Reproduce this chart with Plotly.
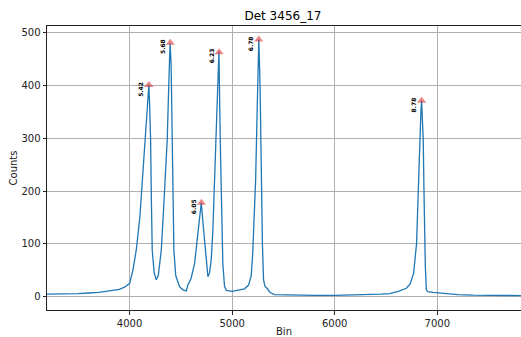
import plotly.graph_objects as go

# Spectrum samples: bin number and counts
bins = [
    3195, 3300, 3400, 3500, 3600, 3700, 3800, 3900, 3950, 4000,
    4032, 4065, 4100, 4125, 4146, 4165, 4180, 4188, 4196, 4205,
    4213, 4221, 4240, 4260, 4280, 4295, 4309, 4330, 4350, 4367,
    4385, 4395, 4405, 4416, 4425, 4432, 4450, 4487, 4520, 4552,
    4569, 4600, 4634, 4666, 4699, 4722, 4748, 4764, 4780, 4796,
    4812, 4829, 4845, 4860, 4871, 4884, 4895, 4903, 4909, 4926,
    4945, 5000, 5060, 5120, 5160, 5186, 5200, 5209, 5229, 5240,
    5250, 5260, 5272, 5284, 5295, 5306, 5320, 5339, 5370, 5414,
    5500, 5600, 5800, 6000, 6200, 6350, 6450, 6535, 6620, 6698,
    6735, 6769, 6798, 6815, 6827, 6840, 6847, 6855, 6863, 6870,
    6876, 6883, 6893, 6909, 6960, 7020, 7100, 7200, 7350, 7500,
    7650, 7816,
]
counts = [
    5, 5, 6, 6, 7, 8, 11, 14, 18, 25,
    50, 88, 150, 220, 297, 340, 385, 401, 360, 297,
    180, 88, 45, 32, 40, 60, 88, 160, 230, 297,
    420, 480, 440, 297, 170, 88, 40, 19, 13, 11,
    22, 35, 63, 126, 178, 126, 63, 38, 45, 70,
    126, 221, 297, 400, 464, 297, 180, 100, 63, 19,
    12, 10, 12, 15, 22, 40, 80, 126, 221, 320,
    420, 487, 400, 221, 100, 32, 20, 16, 8, 4,
    3.5, 3, 2.5, 2.5, 3, 4, 5, 6, 10, 16,
    24, 44, 101, 202, 297, 350, 371, 340, 297, 202,
    101, 60, 13, 9.5, 8, 7, 5, 4, 3, 2.5,
    2.5, 2,
]

# Identified peaks: position, height and alpha energy (MeV)
peak_bins = [4188, 4397, 4701, 4873, 5259, 6847]
peak_counts = [401, 481, 178, 463, 487, 371]
peak_labels = ["5.42", "5.68", "6.05", "6.23", "6.78", "8.78"]

x_range = [3195, 7816]
y_range = [-25.2, 512.7]
y_ticks = [0, 100, 200, 300, 400, 500]
x_ticks = [4000, 5000, 6000, 7000]

fig = go.Figure()
fig.add_trace(go.Scatter(
    x=bins, y=counts, mode="lines",
    line=dict(color="#1f77b4", width=1.3),
    hoverinfo="skip", showlegend=False,
))
fig.add_trace(go.Scatter(
    x=peak_bins, y=peak_counts, mode="markers",
    marker=dict(symbol="triangle-up", size=8, color="rgba(214,39,40,0.55)",
                line=dict(width=0)),
    showlegend=False,
))

for xb, yc, lab in zip(peak_bins, peak_counts, peak_labels):
    fig.add_annotation(
        x=xb, y=yc, text=f"<b>{lab}</b>", showarrow=False,
        textangle=-90, xanchor="center", yanchor="middle",
        xshift=-8, yshift=-4,
        font=dict(family="DejaVu Sans", size=6, color="black"),
    )

axis_common = dict(
    showgrid=True, gridcolor="#b0b0b0", gridwidth=0.8,
    zeroline=False, showline=True, linecolor="#222", linewidth=1,
    mirror=True, ticks="outside", ticklen=3.5, tickwidth=0.8,
    tickcolor="#222", automargin=False,
    tickfont=dict(family="DejaVu Sans", size=10, color="#222"),
    title_font=dict(family="DejaVu Sans", size=10, color="#222"),
)

fig.update_layout(
    width=521, height=337,
    margin=dict(l=47, r=0, t=26, b=27),
    paper_bgcolor="white", plot_bgcolor="white",
    title=dict(text="Det 3456_17", x=0.5431, xanchor="center",
               y=1 - 16 / 337, yanchor="middle", yref="container",
               font=dict(family="DejaVu Sans", size=12, color="black")),
    xaxis=dict(range=x_range, tickvals=x_ticks, title=dict(text="Bin", standoff=5),
               **axis_common),
    yaxis=dict(range=y_range, tickvals=y_ticks, title=dict(text="Counts", standoff=1),
               **axis_common),
)

fig.write_html("out.html")
